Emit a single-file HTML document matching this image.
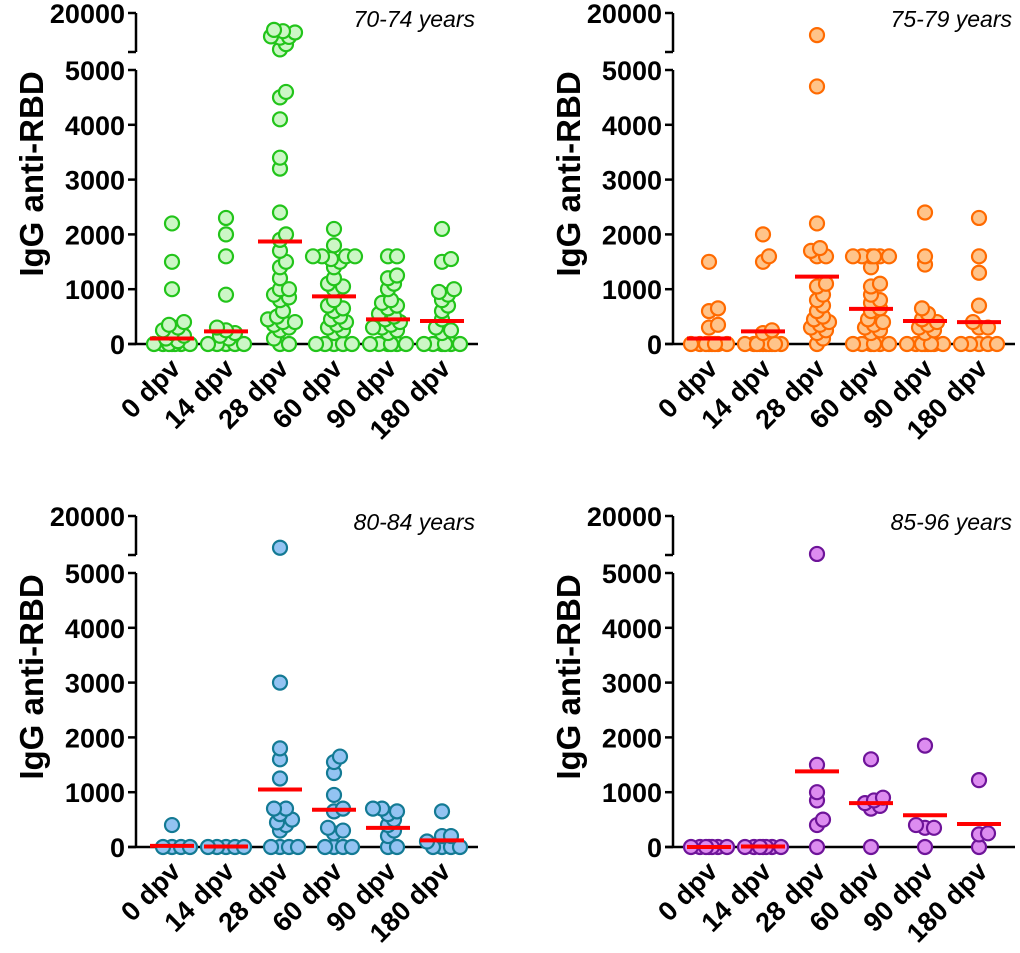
<!DOCTYPE html>
<html><head><meta charset="utf-8"><style>
html,body{margin:0;padding:0;background:#fff;}
svg{display:block;font-family:"Liberation Sans",Arial,sans-serif;}
</style></head><body>
<svg id="chart" width="1020" height="953" viewBox="0 0 1020 953" xmlns="http://www.w3.org/2000/svg"></svg>
<script>
const categories = ["0 dpv","14 dpv","28 dpv","60 dpv","90 dpv","180 dpv"];
const yTickLabels = [0,1000,2000,3000,4000,5000];
const yTopLabel = 20000;
const panelTitles = ["70-74 years","75-79 years","80-84 years","85-96 years"];

const p1Values = [
 [2200,1500,1000,400,350,300,250,200,150,100,50,0,0,0,0,0,0,0],
 [2300,2000,1600,900,300,250,200,150,100,0,0,0,0,0],
 [13500,13000,12500,11000,10800,10500,8000,6000,4600,4500,4100,3400,3200,2400,2000,1900,1700,1500,1400,1200,1000,1000,900,850,800,600,500,450,400,400,350,300,250,100,0,0],
 [2100,1800,1600,1600,1600,1600,1550,1500,1400,1200,1100,1050,1000,800,700,650,600,500,450,400,350,300,250,200,0,0,0,0,0],
 [1600,1600,1250,1200,1100,1000,800,750,700,650,550,500,450,400,350,300,300,250,200,0,0,0,0,0,0],
 [2100,1550,1500,1000,950,900,800,700,600,450,300,250,200,0,0,0,0,0,0]
];
const p1Means = [100,230,1870,870,450,420];

const p2Values = [
 [1500,650,600,350,300,0,0,0,0,0,0,0,0],
 [2000,1600,1500,250,200,0,0,0,0,0,0,0,0,0,0],
 [11500,4700,2200,1750,1700,1600,1600,1100,1050,900,800,700,600,500,450,400,350,300,250,200,100,0],
 [1600,1600,1600,1600,1600,1600,1400,1100,1050,900,800,750,650,600,450,400,350,300,250,200,0,0,0,0,0,0],
 [2400,1600,1450,650,550,450,400,350,300,250,200,0,0,0,0,0,0,0,0],
 [2300,1600,1300,700,400,300,300,0,0,0,0,0]
];
const p2Means = [100,230,1230,640,420,400];

const p3Values = [
 [400,0,0,0,0],
 [0,0,0,0,0],
 [7800,3000,1800,1600,1250,700,700,600,500,450,400,300,0,0,0,0],
 [1650,1550,1350,950,700,650,350,300,250,0,0,0,0],
 [700,700,650,600,500,400,300,200,0,0],
 [650,200,200,100,0,0,0,0]
];
const p3Means = [20,10,1050,680,350,120];

const p4Values = [
 [0,0,0,0,0,0,0],
 [0,0,0,0,0,0,0],
 [5400,1500,1000,850,500,400,0],
 [1600,900,850,800,750,700,0],
 [1850,400,350,350,0],
 [1220,250,230,0]
];
const p4Means = [0,10,1380,800,580,420];

const NS="http://www.w3.org/2000/svg";
const svg=document.getElementById('chart');
function mk(tag,attrs,parent){const e=document.createElementNS(NS,tag);for(const k in attrs)e.setAttribute(k,attrs[k]);(parent||svg).appendChild(e);return e;}

const panels=[
 {vals:p1Values,means:p1Means,ox:0,oy:0,fill:"#ccf7c6",stroke:"#22c41a",name:"panel-70-74"},
 {vals:p2Values,means:p2Means,ox:537,oy:0,fill:"#ffc48a",stroke:"#ff6a00",name:"panel-75-79"},
 {vals:p3Values,means:p3Means,ox:0,oy:503,fill:"#93c3f2",stroke:"#137a94",name:"panel-80-84"},
 {vals:p4Values,means:p4Means,ox:537,oy:503,fill:"#dd8cf0",stroke:"#6e1499",name:"panel-85-96"}
];

panels.forEach((P,pi)=>{
  const g=mk('g',{});
  
  
  const ax=136+P.ox, y0=344+P.oy, y5=70+P.oy, yb=52+P.oy, yt=13+P.oy, xEnd=478+P.ox;
  const yScale=v=> v<=5000 ? y0-(v/5000)*(y0-y5) : yb-((v-5000)/15000)*(yb-yt);
  const xScale=i=> ax+36+i*54;
  const ya=mk('line',{x1:ax,y1:y5,x2:ax,y2:y0,stroke:"#000","stroke-width":2.5},g);
  
  const yu=mk('line',{x1:ax,y1:yt,x2:ax,y2:yb,stroke:"#000","stroke-width":2.5},g);
  
  mk('line',{x1:ax-8,y1:yt,x2:ax,y2:yt,stroke:"#000","stroke-width":2.5},g);
  mk('line',{x1:ax-8,y1:yb,x2:ax,y2:yb,stroke:"#000","stroke-width":2.5},g);
  const xa=mk('line',{x1:ax-8,y1:y0,x2:xEnd,y2:y0,stroke:"#000","stroke-width":2.5},g);
  
  yTickLabels.forEach(t=>{
    const y=yScale(t);
    mk('line',{x1:ax-8,y1:y,x2:ax,y2:y,stroke:"#000","stroke-width":2.5},g);
    const tx=mk('text',{x:ax-11,y:y+10,"text-anchor":"end","font-size":27,"font-weight":"bold"},g);
    tx.textContent=t;
    
  });
  const tt=mk('text',{x:ax-11,y:yt+10,"text-anchor":"end","font-size":27,"font-weight":"bold"},g);
  tt.textContent=yTopLabel;
  
  const yl=mk('text',{x:0,y:0,"text-anchor":"middle","font-size":33,"font-weight":"bold",transform:`translate(${43+P.ox},${174+P.oy}) rotate(-90)`},g);
  yl.textContent="IgG anti-RBD";
  
  const ti=mk('text',{x:475+P.ox,y:27+P.oy,"text-anchor":"end","font-size":23,"font-style":"italic"},g);
  ti.textContent=panelTitles[pi];
  
  categories.forEach((c,i)=>{
    const cx=xScale(i);
    mk('line',{x1:cx,y1:y0,x2:cx,y2:y0+7,stroke:"#000","stroke-width":2.5},g);
    const lb=mk('text',{x:0,y:0,"text-anchor":"end","font-size":27,"font-weight":"bold",transform:`translate(${cx+10},${y0+26}) rotate(-45)`},g);
    lb.textContent=c;
    
    const vals=P.vals[i].slice().sort((a,b)=>a-b);
    const placed=[];
    vals.forEach(v=>{
      const y=yScale(v);
      let best=0,bestD=-1;
      for(let k=0;k<15;k++){
        const o=(k%2?1:-1)*Math.ceil(k/2)*3;
        const md=placed.length?Math.min(...placed.map(p=>Math.hypot(p[0]-(cx+o),p[1]-y))):99;
        if(md>=7){best=o;bestD=md;break;}
        if(md>bestD){bestD=md;best=o;}
      }
      placed.push([cx+best,y]);
      const d=mk('circle',{cx:cx+best,cy:y,r:7,fill:P.fill,stroke:P.stroke,"stroke-width":2.2},g);
      
    });
  });
  P.means.forEach((m,i)=>{
    const cx=xScale(i), y=yScale(m);
    const ml=mk('line',{x1:cx-22,y1:y,x2:cx+22,y2:y,stroke:"#ff0000","stroke-width":4},g);
    
  });
});
</script>
</body></html>
